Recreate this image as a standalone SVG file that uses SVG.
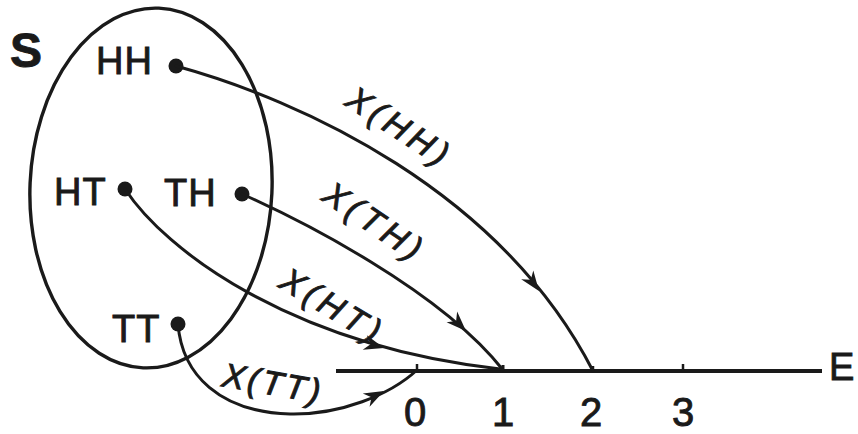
<svg xmlns="http://www.w3.org/2000/svg" width="858" height="434" viewBox="0 0 858 434">
<style>
.lbl{font-family:"Liberation Sans",Arial,sans-serif;fill:#1a1a1a;stroke:#1a1a1a;stroke-width:0.9}
.node{font-size:38px;letter-spacing:1px}
.map{font-size:34px;font-style:italic;letter-spacing:5px}
.num{font-size:40px;text-anchor:middle}
.curve{fill:none;stroke:#1a1a1a;stroke-width:3;stroke-linecap:round}
.dot{fill:#1a1a1a}
</style>
<defs>
<path id="ah" d="M0,0 L-20,-7.5 L-14,0 L-20,7.5 Z" fill="#1a1a1a"/>
</defs>
<rect width="858" height="434" fill="#ffffff"/>
<g id="sample-space">
<ellipse cx="151" cy="188" rx="121" ry="180" transform="rotate(2.5 151 188)" fill="none" stroke="#1a1a1a" stroke-width="3.4"/>
<text class="lbl" x="10" y="67" font-size="48" font-weight="bold">S</text>
</g>
<g id="node-HH"><text class="lbl node" x="96" y="74">HH</text><circle class="dot" cx="176" cy="66" r="7.5"/></g>
<g id="node-HT"><text class="lbl node" x="54" y="205">HT</text><circle class="dot" cx="125" cy="189" r="7.5"/></g>
<g id="node-TH"><text class="lbl node" x="164" y="206">TH</text><circle class="dot" cx="242" cy="194" r="7.5"/></g>
<g id="node-TT"><text class="lbl node" x="112" y="342">TT</text><circle class="dot" cx="178" cy="324" r="7.5"/></g>
<g id="axis">
<line x1="336" y1="371" x2="822" y2="371" stroke="#1a1a1a" stroke-width="3.8"/>
<line x1="417" y1="364" x2="417" y2="371" stroke="#1a1a1a" stroke-width="2.5"/>
<line x1="503" y1="365" x2="503" y2="371" stroke="#1a1a1a" stroke-width="3"/>
<line x1="593" y1="366" x2="593" y2="371" stroke="#1a1a1a" stroke-width="2.5"/>
<line x1="683" y1="364" x2="683" y2="371" stroke="#1a1a1a" stroke-width="2.5"/>
<text class="lbl num" x="415" y="426">0</text>
<text class="lbl num" x="503" y="426">1</text>
<text class="lbl num" x="591" y="426">2</text>
<text class="lbl num" x="683" y="426">3</text>
<text class="lbl" x="829" y="380" font-size="38">E</text>
</g>
<g id="connectors">
<path class="curve" d="M176,66 C300,100 500,190 593,371"/>
<use href="#ah" transform="translate(539,291) rotate(54)"/>
<path class="curve" d="M242,194 C300,220 440,290 503,370"/>
<use href="#ah" transform="translate(466,331) rotate(45)"/>
<path class="curve" d="M125,189 C165,250 290,345 500,369"/>
<use href="#ah" transform="translate(384,348) rotate(16)"/>
<path class="curve" d="M178,324 C182,375 220,412 290,414 C340,415 390,395 417,370"/>
<use href="#ah" transform="translate(384,391) rotate(-27)"/>
<text class="lbl map" transform="translate(400,127) rotate(33)" text-anchor="middle" y="12">X(HH)</text>
<text class="lbl map" transform="translate(375,222) rotate(34)" text-anchor="middle" y="12">X(TH)</text>
<text class="lbl map" transform="translate(333,306) rotate(31)" text-anchor="middle" y="12">X(HT)</text>
<text class="lbl map" transform="translate(273,383) rotate(10)" text-anchor="middle" y="12" style="letter-spacing:3px">X(TT)</text>
</g>
</svg>
